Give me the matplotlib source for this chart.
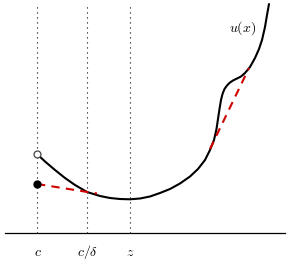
import matplotlib
matplotlib.use("Agg")
import matplotlib.pyplot as plt

plt.rcParams['mathtext.fontset'] = 'cm'

# positions of the marked points on the x axis
tick_pos = [37, 87, 130]
tick_labels = [r'$c$', r'$c/\delta$', r'$z$']

# the function u(x)
curve_x = [37, 45, 55, 65, 75, 87, 100, 110, 120, 130, 140, 150, 160, 170, 180,
           190, 198, 205, 210, 214, 216.5, 218, 219.5, 221, 222.5, 224.5, 227,
           230, 233, 237, 241, 245, 250, 255, 259, 262, 265, 267, 269]
curve_y = [108, 100.5, 92, 84, 77, 70, 66, 64, 63, 62.7, 63.5, 65.5, 69, 73, 78.5,
           85.5, 93, 102, 112, 122, 133, 143, 153, 162, 168, 173, 176.5,
           179.5, 181.5, 183.5, 185.5, 189, 195, 204, 213, 222, 235, 247, 258]

# the concave envelope pieces (red dashed)
chord1_x = [37, 97]
chord1_y = [78, 68.5]
chord2_x = [210, 249]
chord2_y = [113, 194]

open_pt = (37, 108)
filled_pt = (37, 78)
axis_y = 29

fig = plt.figure(figsize=(2.87, 2.62), dpi=100)
ax = fig.add_axes([0, 0, 1, 1])
ax.set_xlim(0, 287)
ax.set_ylim(0, 262)
ax.axis('off')

# horizontal axis
ax.plot([5, 285], [axis_y, axis_y], color='black', lw=0.9)

# dotted guides and labels
for xp, lab in zip(tick_pos, tick_labels):
    ax.plot([xp, xp], [axis_y, 259], color='black', lw=0.8, ls=(0, (1, 3.5)))
    ax.text(xp + 0.5, 10, lab, ha='center', va='center', fontsize=10)

ax.plot(curve_x, curve_y, color='black', lw=1.5, solid_capstyle='round',
        solid_joinstyle='round')
ax.plot(chord1_x, chord1_y, color='#d00000', lw=1.5, ls=(0, (4, 3)))
ax.plot(chord2_x, chord2_y, color='#d00000', lw=1.5, ls=(0, (4, 3)))

ax.plot(*open_pt, 'o', ms=5, mfc='white', mec='#444444', mew=0.9)
ax.plot(*filled_pt, 'o', ms=5, color='black')

ax.text(243, 234, r'$u(x)$', ha='center', va='center', fontsize=10)

fig.savefig('out.png', dpi=100)
